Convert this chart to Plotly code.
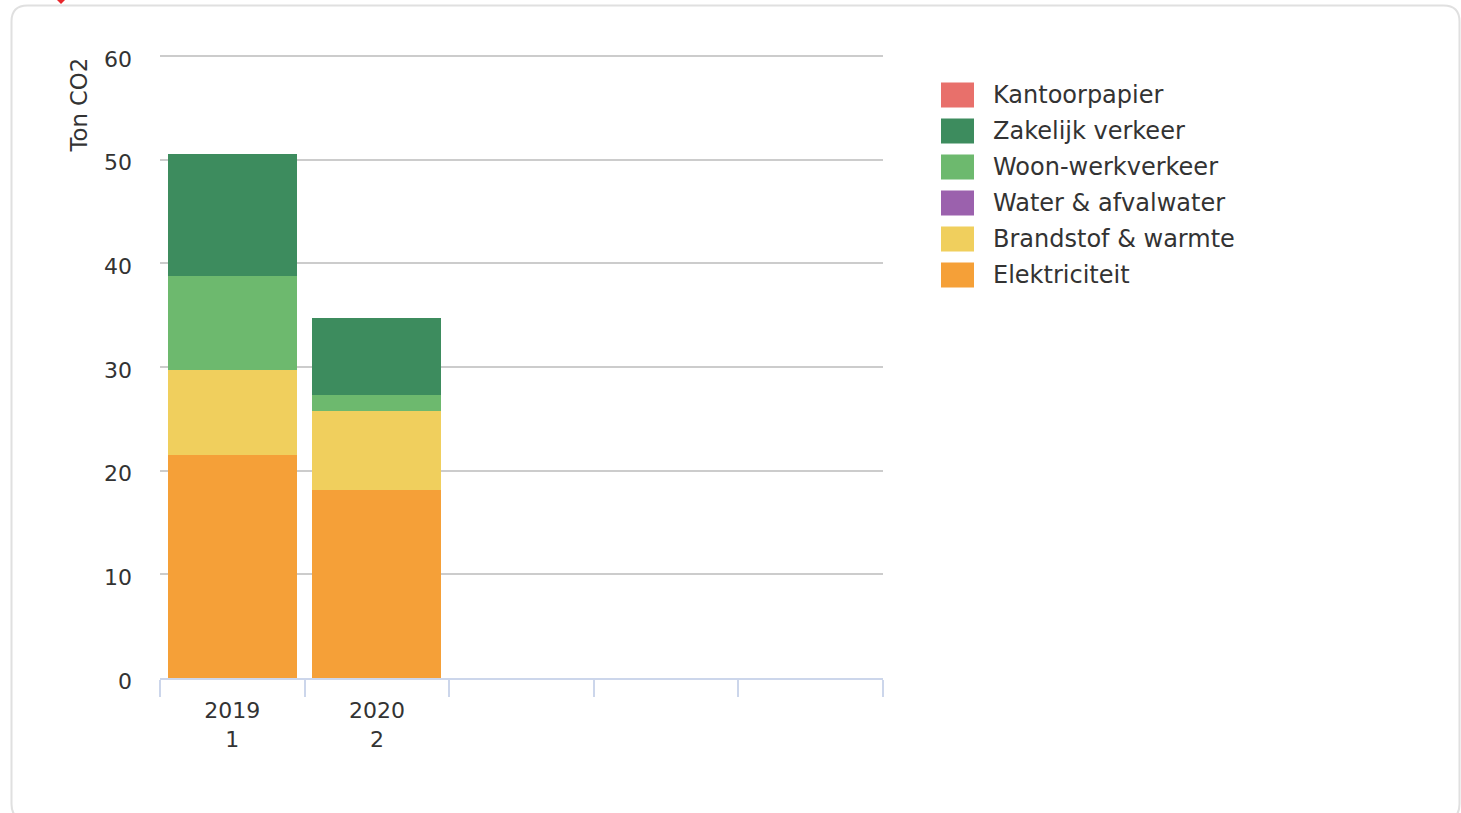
import plotly.graph_objects as go

# ---------------- data ----------------
categories = ["2019<br>1", "2020<br>2", " ", "  ", "   "]
bar_categories = ["2019<br>1", "2020<br>2"]

series_names = ["Elektriciteit", "Brandstof & warmte", "Water & afvalwater",
                "Woon-werkverkeer", "Zakelijk verkeer", "Kantoorpapier"]
elektriciteit = [21.5, 18.1]
brandstof_warmte = [8.2, 7.7]
water_afvalwater = [0.0, 0.0]
woon_werkverkeer = [9.1, 1.5]
zakelijk_verkeer = [11.8, 7.4]
kantoorpapier = [0.0, 0.0]
series_values = [elektriciteit, brandstof_warmte, water_afvalwater,
                 woon_werkverkeer, zakelijk_verkeer, kantoorpapier]
series_colors = ["#F5A038", "#F0CF5D", "#9B61AD", "#6DB96E", "#3D8C5E", "#E8706B"]

y_ticks = [0, 10, 20, 30, 40, 50, 60]
y_title = "Ton CO2"

# ---------------- layout geometry ----------------
W, H = 1461, 813
L, R, T, B = 160, 578, 54, 135
PW, PH = W - L - R, H - T - B


def px(x):
    return (x - L) / PW


def py(y):
    return (H - B - y) / PH


FONT = "DejaVu Sans"
TXT = "#333333"

fig = go.Figure()
for name, vals, col in zip(series_names, series_values, series_colors):
    fig.add_trace(go.Bar(x=bar_categories, y=vals, name=name,
                         marker=dict(color=col, line=dict(width=0)),
                         showlegend=False))

shapes = []
annotations = []

# rounded border box
x0, x1, y0, y1, r = 11.5, 1459.5, 5.5, 820, 16
path = (f"M {px(x0+r)},{py(y0)} L {px(x1-r)},{py(y0)} "
        f"Q {px(x1)},{py(y0)} {px(x1)},{py(y0+r)} "
        f"L {px(x1)},{py(y1-r)} Q {px(x1)},{py(y1)} {px(x1-r)},{py(y1)} "
        f"L {px(x0+r)},{py(y1)} Q {px(x0)},{py(y1)} {px(x0)},{py(y1-r)} "
        f"L {px(x0)},{py(y0+r)} Q {px(x0)},{py(y0)} {px(x0+r)},{py(y0)} Z")
shapes.append(dict(type="path", xref="paper", yref="paper", path=path,
                   line=dict(color="#e0e0e0", width=2), layer="below"))

# small red marker at the top
shapes.append(dict(type="path", xref="paper", yref="paper",
                   path=f"M {px(55)},{py(-2)} L {px(67)},{py(-2)} L {px(61)},{py(4)} Z",
                   fillcolor="#e8262b", line=dict(width=0)))

# legend (reversed order, drawn as shapes + text)
leg_x0, leg_x1, leg_text_x = 941, 974, 991
leg_y_start, leg_step, leg_h = 95, 36, 25
for i, (name, col) in enumerate(zip(reversed(series_names), reversed(series_colors))):
    cy = leg_y_start + i * leg_step
    shapes.append(dict(type="rect", xref="paper", yref="paper",
                       x0=px(leg_x0), x1=px(leg_x1),
                       y0=py(cy - leg_h / 2), y1=py(cy + leg_h / 2),
                       fillcolor=col, line=dict(width=0)))
    annotations.append(dict(xref="paper", yref="paper", x=px(leg_text_x), y=py(cy),
                            xanchor="left", yanchor="middle", text=name,
                            showarrow=False, font=dict(family=FONT, size=24, color=TXT)))

# y axis title (top aligned)
annotations.append(dict(xref="paper", yref="paper", x=px(78), y=py(56),
                        xanchor="center", yanchor="top", text=y_title, textangle=-90,
                        showarrow=False, font=dict(family=FONT, size=22.7, color=TXT)))

fig.update_layout(
    width=W, height=H,
    margin=dict(l=L, r=R, t=T, b=B, autoexpand=False),
    paper_bgcolor="white", plot_bgcolor="white",
    barmode="stack", bargap=0.107,
    showlegend=False,
    font=dict(family=FONT, size=22, color=TXT),
    shapes=shapes, annotations=annotations,
    xaxis=dict(type="category", categoryorder="array", categoryarray=categories,
               tickmode="array", tickvals=categories, ticktext=categories,
               range=[-0.5, len(categories) - 0.5],
               tickson="boundaries", ticks="outside", ticklen=17, tickwidth=2,
               tickcolor="#ccd6eb", showline=True, linecolor="#ccd6eb", linewidth=2,
               showgrid=False, ticklabelstandoff=12,
               tickfont=dict(family=FONT, size=22, color=TXT)),
    yaxis=dict(range=[0, 60.2], tickvals=y_ticks, showgrid=True, gridcolor="#cccccc",
               gridwidth=2, zeroline=False, showline=False, ticks="",
               ticklabelstandoff=27, ticklabelshift=3,
               tickfont=dict(family=FONT, size=22, color=TXT)),
)

fig.write_html("out.html", config={"displayModeBar": False},
               post_script="document.body.style.margin='0';document.body.style.overflow='hidden';")
